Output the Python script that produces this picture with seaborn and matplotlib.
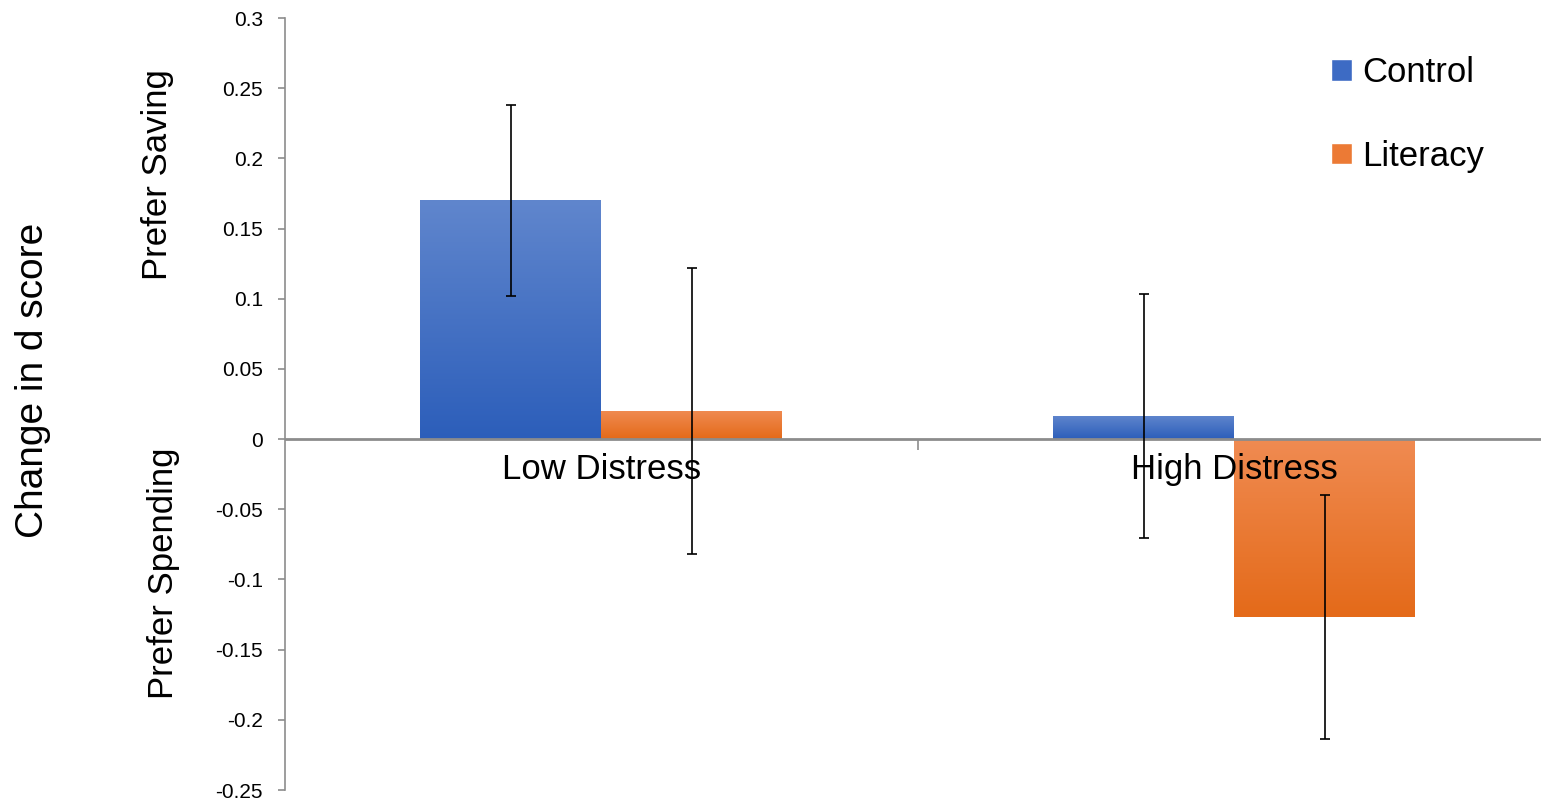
import numpy as np
import pandas as pd
import seaborn as sns
import matplotlib.pyplot as plt
from matplotlib.colors import LinearSegmentedColormap
from matplotlib.patches import Patch

groups = ["Low Distress", "High Distress"]
conditions = ["Control", "Literacy"]
means = {"Control": [0.170, 0.0165], "Literacy": [0.020, -0.127]}
errors = {"Control": [0.068, 0.087], "Literacy": [0.102, 0.087]}
yticks = [0.3, 0.25, 0.2, 0.15, 0.1, 0.05, 0, -0.05, -0.1, -0.15, -0.2, -0.25]

grad = {
    "Control": ("#6086cd", "#2c5eba"),
    "Literacy": ("#f08b52", "#e46a19"),
}
solid = {"Control": "#3d6bc4", "Literacy": "#ec7a35"}

rows = []
for c in conditions:
    for g, m, e in zip(groups, means[c], errors[c]):
        rows.append({"group": g, "condition": c, "value": m, "err": e})
df = pd.DataFrame(rows)

sns.set_style("white")
plt.rcParams["font.family"] = ["Liberation Sans", "DejaVu Sans"]
plt.rcParams["text.color"] = "black"
plt.rcParams["ytick.labelcolor"] = "black"

fig = plt.figure(figsize=(15.41, 8.02), dpi=100)
ax = fig.add_axes([285 / 1541, 12 / 802, 1 - 285 / 1541, 772 / 802])

sns.barplot(data=df, x="group", y="value", hue="condition", order=groups,
            hue_order=conditions, palette=solid, errorbar=None, width=0.572,
            saturation=1, legend=False, ax=ax, zorder=2)

# gradient fill over each bar (lighter at top), plus error bars at bar centres
for container, c in zip(ax.containers, conditions):
    cmap = LinearSegmentedColormap.from_list(c, list(grad[c]))
    centers = []
    for bar in container:
        x0, w = bar.get_x(), bar.get_width()
        y0, h = bar.get_y(), bar.get_height()
        lo, hi = min(y0, y0 + h), max(y0, y0 + h)
        img = ax.imshow(np.linspace(0, 1, 256).reshape(-1, 1), cmap=cmap,
                        aspect="auto", extent=[x0, x0 + w, lo, hi],
                        origin="upper", zorder=2.1)
        img.set_clip_path(bar)
        bar.set_edgecolor("none")
        centers.append(x0 + w / 2)
    ax.errorbar(centers, means[c], yerr=errors[c], fmt="none", ecolor="black",
                elinewidth=1.2, capsize=3.6, capthick=1.2, zorder=4)

ax.set_xlim(-0.5, 1.485)
ax.set_ylim(-0.25, 0.3)
ax.set_aspect("auto")
ax.axhline(0, color="#8c8c8c", lw=2, zorder=3)
ax.vlines([0.5], -0.008, 0, color="#8c8c8c", lw=1.2, zorder=3)

for sp in ["top", "right", "bottom"]:
    ax.spines[sp].set_visible(False)
ax.spines["left"].set_color("#8c8c8c")
ax.spines["left"].set_linewidth(1.2)

ax.set_xticks([])
ax.set_xlabel("")
ax.set_ylabel("")
ax.set_yticks(yticks)
ax.set_yticklabels([f"{v:g}" for v in yticks], fontsize=15)
ax.tick_params(axis="y", direction="out", length=5, width=1.2,
               color="#8c8c8c", pad=11, left=True, labelcolor="black")

for i, g in enumerate(groups):
    ax.text(i, -0.022, g, ha="center", va="center", fontsize=25, zorder=3.5)

fig.text(33 / 1541, 1 - 380 / 802, "Change in d score", rotation=90,
         ha="center", va="center", fontsize=28)
fig.text(158 / 1541, 1 - 175 / 802, "Prefer Saving", rotation=90,
         ha="center", va="center", fontsize=25)
fig.text(163 / 1541, 1 - 573 / 802, "Prefer Spending", rotation=90,
         ha="center", va="center", fontsize=25)

handles = [Patch(facecolor=solid[c], label=c) for c in conditions]
ax.legend(handles=handles, loc="upper left",
          bbox_to_anchor=((1314 - 285) / 1256, 1.0 - 21 / 772),
          frameon=False, fontsize=25, handlelength=0.58, handleheight=0.58,
          handletextpad=0.3, labelspacing=1.45, borderpad=0)

fig.savefig("out.png", dpi=100)
